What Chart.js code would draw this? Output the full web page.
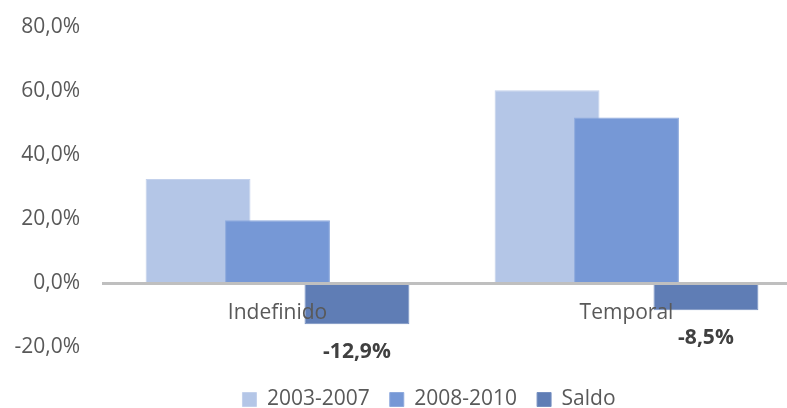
<!DOCTYPE html>
<html>
<head>
<meta charset="utf-8">
<script src="https://cdn.jsdelivr.net/npm/chart.js"></script>
<style>
  html, body { margin: 0; padding: 0; background: #fff; overflow: hidden; }
  #chart { display: block; }
</style>
</head>
<body>
<canvas id="chart" width="858" height="420"></canvas>
<script>
// Datos
const categorias = ["Indefinido", "Temporal"];
const periodo2003 = [32.5, 60.2];
const periodo2008 = [19.6, 51.7];
const saldo = [-12.9, -8.5];
const etiquetasSerie = ["2003-2007", "2008-2010", "Saldo"];

const colorTexto = "#595959";

Chart.defaults.font.family = "'Open Sans', sans-serif";

function formatoPct(v) {
  return v.toFixed(1).replace(".", ",") + "%";
}

// dibuja las series en orden (la siguiente encima de la anterior)
const ordenSeries = {
  id: "ordenSeries",
  beforeDatasetsDraw(chart) {
    const { ctx, chartArea } = chart;
    ctx.save();
    ctx.beginPath();
    ctx.rect(chartArea.left, chartArea.top, chartArea.width, chartArea.height);
    ctx.clip();
    chart.getSortedVisibleDatasetMetas().forEach(meta => meta.controller.draw());
    ctx.restore();
    return false;
  }
};

// etiquetas de valor debajo de las barras del saldo
const etiquetasSaldo = {
  id: "etiquetasSaldo",
  afterDraw(chart) {
    const { ctx } = chart;
    const meta = chart.getDatasetMeta(2);
    ctx.save();
    ctx.font = "bold 21px 'Open Sans', sans-serif";
    ctx.fillStyle = "#404040";
    ctx.textAlign = "center";
    ctx.textBaseline = "middle";
    meta.data.forEach((bar, i) => {
      ctx.fillText(formatoPct(saldo[i]), bar.x, bar.y + 28);
    });
    ctx.restore();
  }
};

new Chart(document.getElementById("chart"), {
  type: "bar",
  data: {
    labels: categorias,
    datasets: [
      {
        label: etiquetasSerie[0],
        data: periodo2003,
        backgroundColor: "#b4c6e7",
        borderColor: "#c3d1ec",
        borderWidth: 1
      },
      {
        label: etiquetasSerie[1],
        data: periodo2008,
        backgroundColor: "#7698d6",
        borderColor: "#8eaadd",
        borderWidth: 1
      },
      {
        label: etiquetasSerie[2],
        data: saldo,
        backgroundColor: "#5f7db5",
        borderColor: "#7690c1",
        borderWidth: 1
      }
    ]
  },
  options: {
    responsive: false,
    animation: false,
    devicePixelRatio: 1,
    categoryPercentage: 0.683,
    barPercentage: 1.32,
    layout: { padding: { left: 0, right: 0, top: 27, bottom: 0 } },
    scales: {
      x: {
        position: { y: 0 },
        grid: { display: false, drawTicks: false },
        border: { display: true, color: "#bfbfbf", width: 3, z: 1 },
        ticks: { color: colorTexto, font: { size: 21 }, padding: 17, z: 1 }
      },
      y: {
        min: -20,
        max: 80,
        grid: { display: false, drawTicks: true, tickLength: 23 },
        border: { display: false },
        ticks: {
          stepSize: 20,
          color: colorTexto,
          font: { size: 21 },
          padding: 0,
          callback: v => formatoPct(v)
        },
        afterFit(scale) { scale.width = 103; }
      },
      // eje vacío a la derecha: reserva el margen derecho del área de trazado
      margen: {
        type: "linear",
        position: "right",
        grid: { display: false, drawTicks: false },
        border: { display: false },
        ticks: { display: false },
        afterFit(scale) { scale.width = 57; }
      }
    },
    plugins: {
      legend: {
        position: "bottom",
        title: { display: true, text: " ", font: { size: 2 }, padding: 9.8 },
        labels: {
          color: colorTexto,
          font: { size: 21 },
          boxWidth: 14,
          boxHeight: 14,
          padding: 20
        }
      },
      tooltip: { enabled: false }
    }
  },
  plugins: [ordenSeries, etiquetasSaldo]
});
</script>
</body>
</html>
